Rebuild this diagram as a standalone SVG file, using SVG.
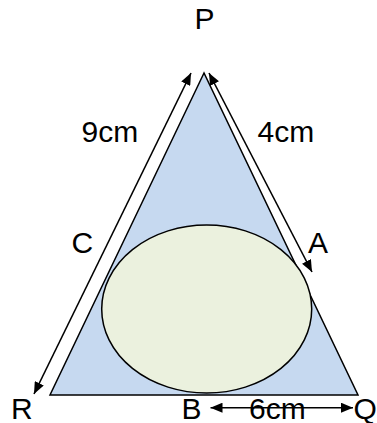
<svg xmlns="http://www.w3.org/2000/svg" width="377" height="423" viewBox="0 0 377 423">
<style>
.lbl{font-family:"Liberation Sans",Arial,sans-serif;font-size:30px;fill:#000}
.conn{stroke:#000;stroke-width:1.6;fill:none;marker-start:url(#ah);marker-end:url(#ah)}
</style>
<defs>
<marker id="ah" viewBox="0 0 12 10" refX="12" refY="5" markerWidth="12" markerHeight="10" markerUnits="userSpaceOnUse" orient="auto-start-reverse">
<path d="M0,0 L12,5 L0,10 z" fill="#000"/>
</marker>
</defs>
<rect width="377" height="423" fill="#fff"/>
<g id="triangle">
<polygon points="204,73 50,395 358,395" fill="#c6d9f0" stroke="#000" stroke-width="1.5"/>
</g>
<g id="circle">
<ellipse cx="206.7" cy="309" rx="105" ry="84" fill="#ebf1de" stroke="#000" stroke-width="1.5"/>
</g>
<g id="labels">
<text class="lbl" x="194.5" y="28.5">P</text>
<text class="lbl" x="71.5" y="252.5">C</text>
<text class="lbl" x="308" y="252.5">A</text>
<text class="lbl" x="11" y="418.5">R</text>
<text class="lbl" x="181.6" y="418.5">B</text>
<text class="lbl" x="353.5" y="418.5">Q</text>
<text class="lbl" x="81.5" y="141.5">9cm</text>
<text class="lbl" x="257.5" y="141.5">4cm</text>
<text class="lbl" x="249" y="418.5">6cm</text>
</g>
<g id="connectors">
<line class="conn" x1="191" y1="73" x2="34" y2="394"/>
<line class="conn" x1="209" y1="73" x2="312" y2="272"/>
<line class="conn" x1="210.5" y1="407.7" x2="353" y2="407.7"/>
</g>
</svg>
